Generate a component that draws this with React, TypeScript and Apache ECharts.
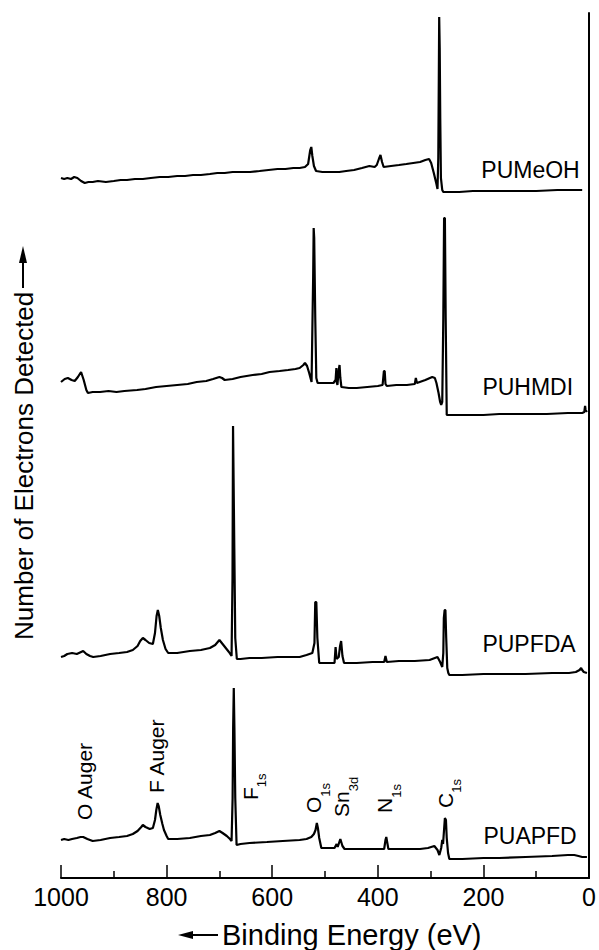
import React, { useEffect, useRef } from 'react';
import * as echarts from 'echarts';

// Binding energy (eV) vs. counts (arbitrary units, traces stacked by offset)
const xTicks = [0, 200, 400, 600, 800, 1000];

const traceNames = ['PUMeOH', 'PUHMDI', 'PUPFDA', 'PUAPFD'];

const puMeOH: number[][] = [
  [1000, 700], [994, 699], [988, 700], [981, 699], [975, 701], [969, 700], [962, 697], [955, 695],
  [948, 696], [940, 696], [930, 697], [915, 696], [900, 697], [887, 698], [875, 698], [860, 699],
  [845, 699], [830, 700], [813, 701], [797, 701], [780, 702], [765, 702], [750, 703], [735, 703],
  [718, 704], [704, 705], [690, 705], [675, 706], [660, 706], [642, 706], [624, 707], [607, 708],
  [590, 709], [575, 709], [560, 710], [548, 710], [538, 711], [532, 714], [528, 728], [526, 731],
  [524, 722], [521, 712], [517, 707], [505, 706], [490, 706], [473, 706], [460, 707], [445, 708],
  [430, 710], [416, 712], [406, 711], [402, 713], [398, 719], [395, 723], [392, 716], [389, 711],
  [375, 712], [360, 713], [346, 714], [333, 715], [320, 716], [310, 718], [303, 719], [299, 715],
  [294, 705], [289, 694], [287, 689], [285.5, 720], [284.5, 800], [283.8, 861], [282.8, 830],
  [281.8, 760], [280.5, 700], [278, 688], [276, 686], [265, 686], [246, 686], [220, 687], [200, 687],
  [170, 687], [132, 687], [100, 687], [60, 688], [13, 688],
];

const puHMDI: number[][] = [
  [1000, 496], [993, 499], [987, 500], [980, 498], [974, 497], [968, 501], [962, 506], [957, 498],
  [952, 488], [949, 485], [940, 486], [926, 486], [910, 487], [895, 486], [880, 487], [856, 488],
  [840, 489], [820, 491], [800, 492], [780, 493], [760, 494], [743, 496], [725, 497], [712, 499],
  [700, 501], [695, 500], [690, 498], [675, 499], [660, 501], [637, 503], [620, 504], [605, 506],
  [586, 507], [570, 508], [556, 509], [548, 510], [541, 513], [538, 515], [534, 512], [530, 505],
  [527, 499], [525.5, 496], [522.5, 600], [521.5, 650], [520.5, 640], [518.5, 560], [516.5, 500],
  [514, 495], [510, 495], [495, 495], [484, 495], [480, 498], [478.5, 510], [477.5, 495], [476.5, 493],
  [474, 508], [472.5, 513], [471, 500], [469, 491], [455, 490], [440, 490], [420, 491], [400, 492],
  [391, 493], [388.5, 507], [387, 507], [385.5, 494], [383, 492], [365, 493], [345, 493], [330, 494],
  [328, 500], [326, 495], [310, 498], [297, 501], [292, 500], [289, 495], [285, 485], [282, 476],
  [280, 473], [278, 476], [276, 560], [274.5, 660], [273, 660], [271.5, 560], [269.5, 463],
  [260, 463], [246, 463], [220, 463], [200, 463], [170, 464], [120, 464], [80, 464], [40, 465],
  [13, 465], [9, 466], [7.5, 472], [6.5, 468], [4, 466],
];

const puPFDA: number[][] = [
  [1000, 221], [994, 222], [988, 224], [979, 225], [970, 224], [962, 226], [958, 227], [952, 224],
  [945, 222], [939, 221], [925, 222], [907, 224], [890, 225], [875, 226], [864, 228], [855, 232],
  [850, 237], [845, 240], [840, 238], [833, 235], [826, 234], [822, 245], [819, 262], [816.6, 268],
  [814, 262], [811, 250], [807, 238], [802, 229], [797, 225], [780, 225], [756, 227], [735, 228],
  [718, 230], [708, 233], [700, 238], [694, 234], [688, 230], [682, 226], [677, 222], [675.2, 300],
  [674.2, 452], [673, 452], [671.8, 330], [670, 240], [667, 219], [660, 219], [643, 220], [620, 220],
  [590, 221], [560, 221], [548, 221], [535, 223], [524, 225], [520, 235], [518.5, 276], [516.5, 276],
  [514.5, 240], [511, 215], [500, 215], [482, 215], [480, 231], [478, 219], [474, 221], [471.5, 232],
  [469.5, 237], [467, 222], [464, 215], [440, 215], [410, 216], [388, 216], [385.5, 222], [383, 216],
  [360, 217], [330, 217], [302, 218], [292, 220], [287, 221], [282, 216], [278, 211], [276, 225],
  [275, 260], [273.5, 268], [272, 268], [270.5, 240], [268.5, 210], [266.5, 205], [264.6, 203],
  [240, 203], [200, 204], [170, 204], [120, 204], [70, 205], [38, 205], [25, 206], [18, 208],
  [15, 210], [13, 208], [10, 206], [4, 205],
];

const puAPFD: number[][] = [
  [1000, 38], [994, 39], [986, 38], [979, 39], [970, 40], [963, 41], [958, 41], [950, 39],
  [940, 37], [925, 38], [907, 40], [890, 41], [875, 42], [864, 44], [855, 47], [848, 51],
  [845, 53], [840, 51], [832, 49], [826, 50], [822, 58], [819.5, 68], [817, 75], [815, 72],
  [812, 63], [808, 54], [805, 48], [800, 42], [797, 39], [780, 39], [756, 40], [735, 42],
  [718, 43], [708, 45], [700, 47], [694, 45], [686, 42], [680, 39], [677, 37], [675, 80],
  [674, 150], [672.8, 190], [671.6, 150], [670, 80], [667.5, 33], [660, 34], [643, 35], [610, 36],
  [580, 37], [548, 38], [535, 39], [526, 41], [521, 44], [518, 48], [515.5, 55], [513.5, 50],
  [511, 40], [507, 30], [490, 30], [482, 30], [478, 34], [476, 31], [473.5, 35], [471, 39],
  [467, 32], [463, 29], [440, 29], [410, 29], [388, 29], [385.5, 38], [384, 41], [382, 35],
  [380, 29], [360, 29], [330, 29], [320, 29], [305, 30], [293, 32], [287, 28], [283.5, 23],
  [280, 30], [278, 38], [276.5, 34], [275, 45], [273, 60], [271, 58], [269.5, 40], [267, 25],
  [264.6, 19], [240, 19], [200, 20], [170, 20], [120, 21], [70, 22], [40, 23], [28, 23],
  [20, 22], [13, 21], [4, 21],
];

const traces = [puMeOH, puHMDI, puPFDA, puAPFD];

// Peak annotations: main symbol and subscript, at their binding energies
const peakMain = ['O Auger', 'F Auger', 'F', 'O', 'Sn', 'N', 'C'];
const peakSub = ['', '', '1s', '1s', '3d', '1s', '1s'];
const peakEnergies = [955, 820, 642, 521, 468, 387, 272];

const FONT = 'Liberation Sans, Arial, sans-serif';

export default function App() {
  const ref = useRef<HTMLDivElement>(null);

  useEffect(() => {
    const chart = echarts.init(ref.current!, null, { renderer: 'svg' });
    chart.setOption({
      animation: false,
      backgroundColor: '#fff',
      grid: { left: 61, right: 9, top: 13, bottom: 72 },
      xAxis: {
        type: 'value',
        min: 0,
        max: 1000,
        interval: 200,
        inverse: true,
        axisLine: { show: true, lineStyle: { color: '#000', width: 2 } },
        axisTick: { show: true, inside: true, length: 13, lineStyle: { color: '#000', width: 1.5 } },
        minorTick: { show: true, splitNumber: 2, length: 7, lineStyle: { color: '#000', width: 1.5 } },
        axisLabel: {
          color: '#000', fontSize: 25, fontFamily: FONT, margin: 6,
          formatter: (v: number) => (xTicks.includes(v) ? String(v) : ''),
        },
        splitLine: { show: false },
      },
      yAxis: {
        type: 'value',
        min: 0,
        max: 865,
        axisLine: { show: true, lineStyle: { color: '#000', width: 2 } },
        axisTick: { show: false },
        axisLabel: { show: false },
        splitLine: { show: false },
      },
      series: traces.map((d, i) => ({
        name: traceNames[i],
        type: 'line',
        data: d,
        symbol: 'none',
        showSymbol: false,
        silent: true,
        lineStyle: { color: '#000', width: 2.2 },
      })),
    });

    const px = (e: number, v: number) => chart.convertToPixel({ gridIndex: 0 }, [e, v]) as number[];

    const labelHeights = [708, 491, 234, 42];
    const labelEnergy = [204, 202, 202, 200];
    const peakBottoms = [58, 85, 78, 65, 61, 65, 70];

    const graphics: any[] = [];
    traceNames.forEach((n, i) => {
      const [x, y] = px(labelEnergy[i], labelHeights[i]);
      graphics.push({
        type: 'text', x, y, silent: true,
        style: { text: n, fontSize: 23, fontFamily: FONT, fill: '#000', align: 'left', verticalAlign: 'middle' },
      });
    });
    peakMain.forEach((m, i) => {
      const [x, y] = px(peakEnergies[i], peakBottoms[i]);
      const text = peakSub[i] ? `{m|${m}}{s|${peakSub[i]}}` : `{m|${m}}`;
      graphics.push({
        type: 'text', x, y, rotation: Math.PI / 2, silent: true,
        style: {
          text, fontFamily: FONT, fill: '#000', align: 'left', verticalAlign: 'middle',
          rich: {
            m: { fontSize: 21, lineHeight: 36, fontFamily: FONT, fill: '#000' },
            s: { fontSize: 13, lineHeight: 12, verticalAlign: 'bottom', fontFamily: FONT, fill: '#000' },
          },
        },
      });
    });

    // y-axis title with arrow
    graphics.push({
      type: 'text', x: 24, y: 640, rotation: Math.PI / 2, silent: true,
      style: { text: 'Number of Electrons Detected', fontSize: 26, fontFamily: FONT, fill: '#000', align: 'left', verticalAlign: 'middle' },
    });
    graphics.push({ type: 'line', silent: true, shape: { x1: 23, y1: 288, x2: 23, y2: 258 }, style: { stroke: '#000', lineWidth: 2 } });
    graphics.push({ type: 'polygon', silent: true, shape: { points: [[23, 246], [19, 263], [27, 263]] }, style: { fill: '#000' } });

    // x-axis title with arrow
    graphics.push({
      type: 'text', x: 222, y: 935, silent: true,
      style: { text: 'Binding Energy (eV)', fontSize: 29, fontFamily: FONT, fill: '#000', align: 'left', verticalAlign: 'middle' },
    });
    graphics.push({ type: 'line', silent: true, shape: { x1: 190, y1: 935, x2: 218, y2: 935 }, style: { stroke: '#000', lineWidth: 2 } });
    graphics.push({ type: 'polygon', silent: true, shape: { points: [[178, 935], [193, 931], [193, 939]] }, style: { fill: '#000' } });

    chart.setOption({ graphic: graphics });

    return () => chart.dispose();
  }, []);

  return (
    <div
      ref={ref}
      style={{ position: 'absolute', left: 0, top: 0, width: 599, height: 950, background: '#fff' }}
    />
  );
}
